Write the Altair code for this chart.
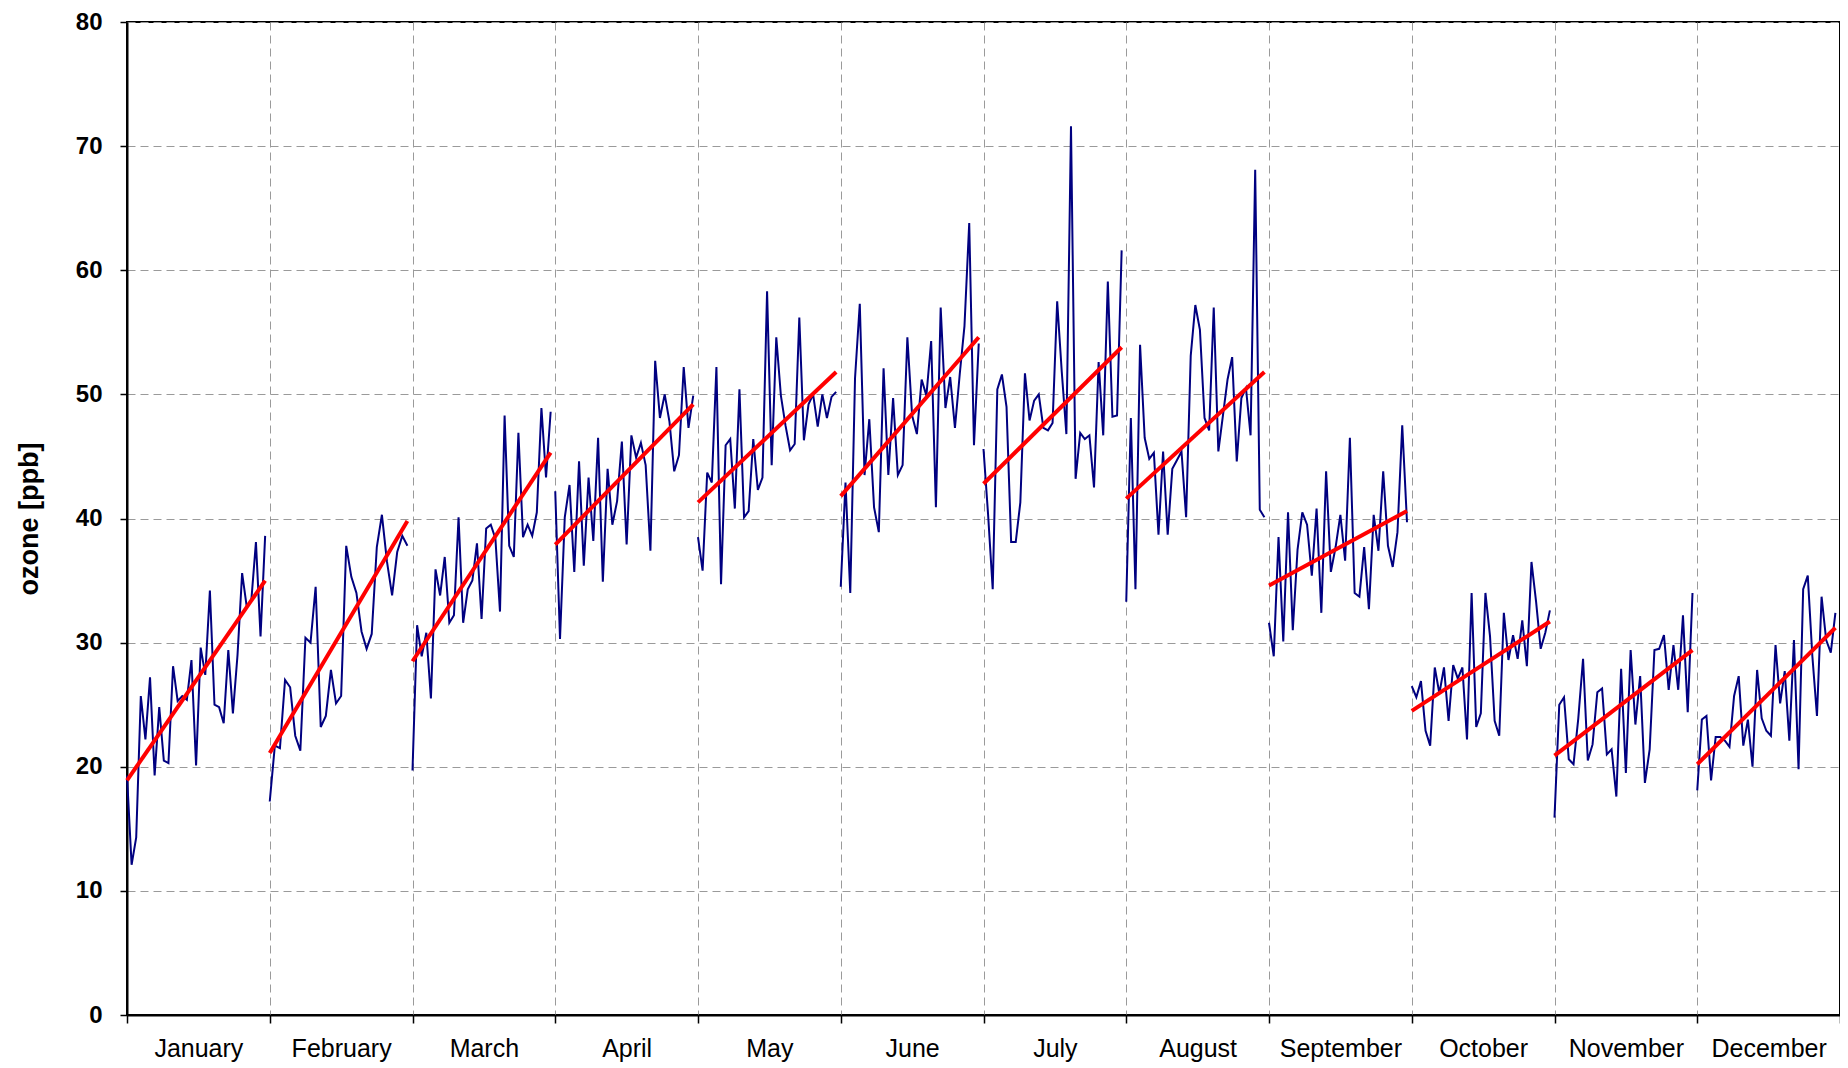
import json
import altair as alt
import pandas as pd

months = ["January", "February", "March", "April", "May", "June",
          "July", "August", "September", "October", "November", "December"]
days_in_month = [31, 28, 31, 30, 31, 30, 31, 31, 30, 31, 30, 31]

jan = [19.3, 12.1, 14.3, 25.7, 22.2, 27.2, 19.3, 24.8, 20.5, 20.3, 28.1, 25.3, 25.7, 25.4, 28.6, 20.1,
       29.6, 27.4, 34.2, 25.0, 24.8, 23.5, 29.4, 24.3, 29.0, 35.6, 32.9, 33.4, 38.1, 30.5, 38.6]
feb = [17.2, 21.7, 21.5, 27.0, 26.4, 22.5, 21.3, 30.4, 30.0, 34.5, 23.2, 24.1, 27.8, 25.1, 25.7, 37.8,
       35.3, 34.0, 30.9, 29.5, 30.7, 37.7, 40.3, 36.5, 33.8, 37.3, 38.6, 37.8]
mar = [19.7, 31.4, 28.9, 30.8, 25.5, 35.9, 33.8, 36.9, 31.6, 32.2, 40.1, 31.6, 34.3, 35.0, 38.0, 31.9,
       39.2, 39.5, 38.4, 32.5, 48.3, 37.8, 36.9, 46.9, 38.5, 39.5, 38.6, 40.5, 48.9, 43.3, 48.6]
apr = [42.2, 30.3, 40.1, 42.7, 35.7, 44.6, 36.2, 43.3, 38.2, 46.5, 34.9, 44.0, 39.5, 41.4, 46.2, 37.9,
       46.7, 44.9, 46.1, 44.3, 37.4, 52.7, 48.1, 50.0, 47.8, 43.8, 45.1, 52.2, 47.3, 49.9]
may = [38.5, 35.8, 43.7, 42.9, 52.2, 34.7, 45.9, 46.4, 40.8, 50.4, 40.1, 40.6, 46.4, 42.3, 43.3, 58.3,
       44.3, 54.6, 49.9, 47.5, 45.5, 46.0, 56.2, 46.3, 49.2, 50.0, 47.4, 50.0, 48.1, 49.8, 50.2]
jun = [34.5, 42.9, 34.0, 51.3, 57.3, 43.5, 48.0, 40.9, 38.9, 52.1, 43.5, 49.7, 43.5, 44.3, 54.6, 48.3,
       46.8, 51.2, 49.9, 54.3, 40.9, 57.0, 48.9, 51.4, 47.3, 51.6, 55.5, 63.8, 45.9, 54.1]
jul = [45.6, 40.3, 34.3, 50.4, 51.6, 49.0, 38.1, 38.1, 41.3, 51.7, 47.9, 49.5, 50.0, 47.3, 47.1, 47.7,
       57.5, 51.8, 46.8, 71.6, 43.2, 46.9, 46.4, 46.7, 42.5, 52.6, 46.7, 59.1, 48.2, 48.3, 61.6]
aug = [33.3, 48.1, 34.3, 54.0, 46.5, 44.8, 45.3, 38.7, 45.4, 38.7, 44.0, 44.7, 45.4, 40.1, 53.1, 57.2,
       55.2, 48.1, 47.1, 57.0, 45.4, 48.3, 51.2, 53.0, 44.6, 49.7, 50.5, 46.7, 68.1, 40.7, 40.1]
sep = [31.6, 28.9, 38.5, 30.1, 40.5, 31.0, 37.5, 40.5, 39.5, 35.4, 40.8, 32.4, 43.8, 35.7, 37.7, 40.3,
       36.6, 46.5, 34.0, 33.7, 37.7, 32.7, 40.3, 37.4, 43.8, 37.8, 36.1, 38.9, 47.5, 39.7]
oct_ = [26.5, 25.6, 26.9, 22.9, 21.7, 28.0, 25.9, 28.0, 23.7, 28.2, 27.1, 28.0, 22.2, 34.0, 23.2, 24.3,
        34.0, 30.5, 23.7, 22.5, 32.4, 28.6, 30.6, 28.7, 31.8, 28.1, 36.5, 33.3, 29.5, 30.8, 32.6]
nov = [15.9, 25.0, 25.6, 20.6, 20.2, 23.9, 28.7, 20.5, 21.8, 26.0, 26.3, 21.0, 21.4, 17.6, 27.9, 19.5,
       29.4, 23.4, 27.3, 18.7, 21.4, 29.4, 29.5, 30.6, 26.2, 29.8, 26.2, 32.2, 24.4, 34.0]
dec = [18.1, 23.8, 24.1, 18.9, 22.4, 22.4, 22.1, 21.6, 25.7, 27.3, 21.7, 23.8, 20.0, 27.8, 23.9, 22.9,
       22.5, 29.8, 25.1, 27.7, 22.1, 30.2, 19.8, 34.3, 35.4, 28.9, 24.1, 33.7, 30.2, 29.2, 32.4]
ozone_by_month = [jan, feb, mar, apr, may, jun, jul, aug, sep, oct_, nov, dec]

trend_start = [18.9, 21.1, 28.5, 37.9, 41.3, 41.8, 42.8, 41.6, 34.6, 24.5, 20.9, 20.2]
trend_end = [35.0, 39.8, 45.3, 49.2, 51.8, 54.6, 53.8, 51.8, 40.6, 31.7, 29.4, 31.2]

y_ticks = [0, 10, 20, 30, 40, 50, 60, 70, 80]

rows = []
trend_rows = []
for m, name in enumerate(months):
    n = days_in_month[m]
    vals = ozone_by_month[m]
    for i, v in enumerate(vals):
        rows.append({"month": name, "x": m + i / n, "ozone": v})
    trend_rows.append({"month": name, "x": m, "ozone": trend_start[m]})
    trend_rows.append({"month": name, "x": m + (len(vals) - 1) / n, "ozone": trend_end[m]})

df = pd.DataFrame(rows)
tdf = pd.DataFrame(trend_rows)

W, H = 1713, 993
FONT = "Liberation Sans"
GRID = "#9a9a9a"

label_expr = json.dumps(months) + "[datum.value] || ''"

x_enc = alt.X(
    "x:Q",
    scale=alt.Scale(domain=[0, 12], nice=False, zero=False),
    axis=alt.Axis(
        values=list(range(13)), labelExpr=label_expr, labelOffset=W / 24,
        labelFlush=False, labelOverlap=False, title=None,
        grid=True, gridDash=[8, 5], gridColor=GRID, gridWidth=1,
        tickColor="black", tickSize=8, tickWidth=1.5,
        domainColor="black", domainWidth=2,
        labelFont=FONT, labelFontSize=25, labelColor="black", labelPadding=13,
    ),
)
y_enc = alt.Y(
    "ozone:Q",
    scale=alt.Scale(domain=[0, 80], nice=False),
    axis=alt.Axis(
        values=y_ticks, title="ozone [ppb]",
        titleFont=FONT, titleFontSize=27, titleFontWeight="bold", titleColor="black",
        titleX=-84, titleY=H / 2,
        grid=True, gridDash=[8, 5], gridColor=GRID, gridWidth=1,
        tickColor="black", tickSize=7, tickWidth=1.5,
        domainColor="black", domainWidth=2,
        labelFont=FONT, labelFontSize=24, labelFontWeight="bold", labelColor="black",
        labelPadding=18,
    ),
)

data_line = alt.Chart(df).mark_line(color="#000080", strokeWidth=2).encode(
    x=x_enc, y=y_enc, detail="month:N"
)
trend_line = alt.Chart(tdf).mark_line(color="#ff0000", strokeWidth=4).encode(
    x=alt.X("x:Q"), y=alt.Y("ozone:Q"), detail="month:N"
)

chart = (
    alt.layer(data_line, trend_line)
    .properties(
        width=W, height=H,
        autosize=alt.AutoSizeParams(type="none"),
        padding={"left": 119, "top": 14, "right": 0, "bottom": 52},
        background="white",
    )
    .configure_view(stroke="black", strokeWidth=2)
)

chart.save("out.html", embed_options={"renderer": "svg", "actions": False})
